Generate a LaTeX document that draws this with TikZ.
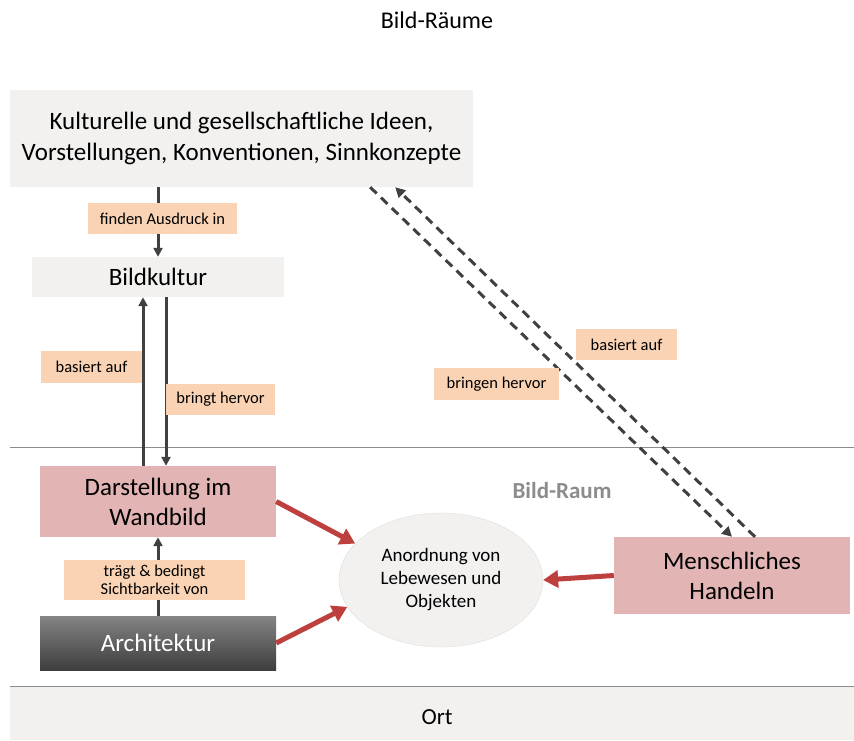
\documentclass[tikz,border=0pt]{standalone}
\usepackage{fontspec}
\setmainfont{Carlito}
\definecolor{boxgray}{RGB}{242, 241, 240}
\definecolor{peach1}{RGB}{249, 211, 180}
\definecolor{rose1}{RGB}{226, 180, 180}
\definecolor{arrowred}{RGB}{190, 64, 62}
\definecolor{darkline}{RGB}{64, 64, 64}
\definecolor{linegray}{RGB}{140, 140, 140}
\usetikzlibrary{shapes.geometric, arrows.meta, positioning, calc}

\tikzset{
  graybox/.style={fill=boxgray, inner sep=0pt, align=center},
  rosebox/.style={fill=rose1, inner sep=0pt, align=center, font=\fontsize{25}{30}\selectfont},
  tag/.style={fill=peach1, inner sep=0pt, align=center, font=\fontsize{16.5}{18}\selectfont},
  darrow/.style={draw=darkline, line width=3pt, -{Triangle[length=9pt,width=9pt]}},
  dasharrow/.style={draw=darkline, line width=3pt, dash pattern=on 9pt off 6pt, -{Triangle[length=10pt,width=10pt]}},
  redarrow/.style={draw=arrowred, line width=5pt, -{Triangle[length=15pt,width=17pt]}}
}

\begin{document}
\begin{tikzpicture}[x=1pt, y=-1pt]
  \useasboundingbox (0,0) rectangle (854,740);

  % Title
  \node[font=\fontsize{24}{28}\selectfont] (title) at (437, 20) {Bild-R\"aume};

  % Ort band and Bild-Raum zone
  \node[graybox, minimum width=844pt, minimum height=54pt] (ort) at (432, 713) {};
  \node[font=\fontsize{23}{26}\selectfont] (orttext) at (437, 717) {Ort};
  \draw[linegray, line width=1pt] (10, 447) -- (854, 447);
  \draw[linegray, line width=1pt] (10, 686) -- (854, 686);
  \node[font=\bfseries\fontsize{23}{26}\selectfont, text=linegray] (raum) at (562, 491) {Bild-Raum};

  % Boxes
  \node[graybox, minimum width=463pt, minimum height=97pt, font=\fontsize{25}{31}\selectfont] (ideas) at (241.5, 138.5) {
    Kulturelle und gesellschaftliche Ideen,\\Vorstellungen, Konventionen, Sinnkonzepte};
  \node[graybox, minimum width=252pt, minimum height=40pt, font=\fontsize{25}{28}\selectfont] (bild) at (158, 277) {Bildkultur};
  \node[rosebox, minimum width=236pt, minimum height=71pt] (darst) at (158, 501.5) {Darstellung im\\Wandbild};
  \node[inner sep=0pt, top color=black!48, bottom color=black!76, minimum width=236pt, minimum height=54pt,
    text=white, font=\fontsize{25}{28}\selectfont] (archi) at (158, 643) {Architektur};
  \node[rosebox, minimum width=236pt, minimum height=77pt] (handeln) at (732, 575.5) {Menschliches\\Handeln};
  \node[ellipse, fill=boxgray, draw=boxgray!90!black, line width=0.3pt, minimum width=204pt, minimum height=134pt,
    inner sep=0pt, align=center, font=\fontsize{19}{23}\selectfont] (ell) at (441, 580) {Anordnung von\\Lebewesen und\\Objekten};

  % Dark connectors
  \draw[darrow] (ideas.south -| bild.south) -- (bild.north);
  \draw[darrow] ([xshift=-15pt]darst.north) -- ([xshift=-15pt]bild.south);
  \draw[darrow] ([xshift=8pt]bild.south) -- ([xshift=8pt]darst.north);
  \draw[darrow] (archi.north) -- (darst.south);

  % Dashed connectors
  \draw[dasharrow] ([xshift=-103pt]ideas.south east) -- (handeln.north);
  \draw[dasharrow] ([xshift=23pt]handeln.north) -- ([xshift=-78pt]ideas.south east);

  % Red connectors
  \draw[redarrow] (darst.east) -- (ell.157);
  \draw[redarrow] (archi.east) -- (ell.196);
  \draw[redarrow] (handeln.west) -- (ell.east);

  % Labels
  \node[tag, minimum width=149pt, minimum height=31pt] (finden) at (162.5, 218.5) {finden Ausdruck in};
  \node[tag, minimum width=101pt, minimum height=32pt] (basleft) at (91.5, 367) {basiert auf};
  \node[tag, minimum width=109pt, minimum height=31pt] (bringt) at (220.5, 399.5) {bringt hervor};
  \node[tag, minimum width=181pt, minimum height=40pt] (traegt) at (154.5, 580) {tr\"agt \& bedingt\\Sichtbarkeit von};
  \node[tag, minimum width=101pt, minimum height=31pt] (basright) at (626.5, 344.5) {basiert auf};
  \node[tag, minimum width=125pt, minimum height=32pt] (bringen) at (496.5, 384) {bringen hervor};
\end{tikzpicture}
\end{document}
